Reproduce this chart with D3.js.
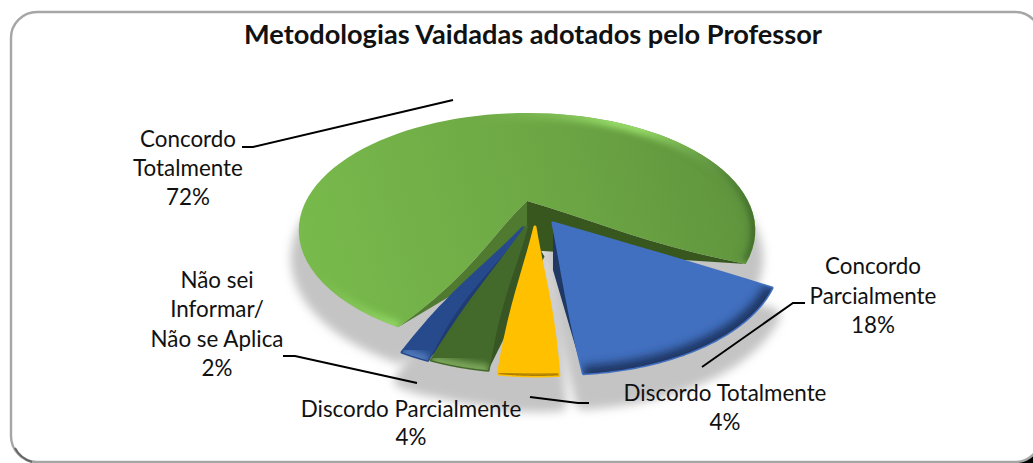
<!DOCTYPE html>
<html lang="pt">
<head>
<meta charset="UTF-8">
<title>Metodologias Vaidadas</title>
<script src="https://d3js.org/d3.v7.min.js"></script>
<style>
  html, body { margin: 0; padding: 0; background: #fff; overflow: hidden; }
  svg { display: block; }
  text { font-family: Lato, "Open Sans", sans-serif; fill: #111; }
  .title { font-size: 27.2px; font-weight: 700; }
  .label { font-size: 22.4px; }
</style>
</head>
<body>
<svg id="chart" width="1033" height="463"></svg>
<script>
const title = "Metodologias Vaidadas adotados pelo Professor";

// data, clockwise from the blue slice
const categories = [
  ["Concordo", "Parcialmente"],
  ["Discordo Totalmente"],
  ["Discordo Parcialmente"],
  ["Não sei", "Informar/", "Não se Aplica"],
  ["Concordo", "Totalmente"]
];
const values = [18, 4, 4, 2, 72];

// look of each slice
const colors = ["#4270c0", "#ffc000", "#43692b", "#264a8c", "#6ea845"];
const wallColors = ["#1f3864", "#c99700", "#375623", "#1f3c74", "#4f7a30"];
const rimColors = ["#1c3562", "#a87a00", "#7aa65a", "#4f78ba", "#8fd262"];
const explodeU = [0.112, 0.034, -0.002, -0.017, 0];
const explodeV = [0.19, 0.223, 0.22, 0.23, 0];
const radii = [0.94, 0.915, 0.9, 0.89, 1];
const wallHeights = [47, 0, 30, 24, 49];
const wallShift = [0, 0, 18, 10, 0];
// how far the cut edges curve, in degrees, at the start and end of each slice
const startBows = [0.5, 1, -1.5, -3, 3];
const endBows = [0.5, 1, 1, 2, 3];

// label placement
const labelX = [873, 725, 411, 217, 188];
const labelY = [274, 401, 417, 288, 147];
const labelStep = [29.5, 29, 28, 29.3, 29];
const leaders = [
  [[702, 367], [793, 303], [805, 303]],
  [[530, 397], [578, 403], [589, 403]],
  [[417, 383], [295, 356], [283, 356]],
  [[453, 100], [253, 147], [242, 147]]
];

const svg = d3.select("#chart");
const defs = svg.append("defs");

function blur(id, amount) {
  defs.append("filter").attr("id", id).attr("x", "-20%").attr("y", "-20%")
    .attr("width", "140%").attr("height", "140%")
    .append("feGaussianBlur").attr("stdDeviation", amount);
}
blur("soft", 5);
blur("edge", 3);
blur("edgeWide", 5);
blur("edgeThin", 1.2);

const greenFill = defs.append("linearGradient").attr("id", "greenFill")
  .attr("gradientUnits", "userSpaceOnUse")
  .attr("x1", 300).attr("y1", 300).attr("x2", 755).attr("y2", 170);
greenFill.append("stop").attr("offset", 0).attr("stop-color", "#79bb4c");
greenFill.append("stop").attr("offset", 0.6).attr("stop-color", "#6ca644");
greenFill.append("stop").attr("offset", 1).attr("stop-color", "#5f933d");

// light along the lower left of the green rim
const greenRim = defs.append("linearGradient").attr("id", "greenRim")
  .attr("gradientUnits", "userSpaceOnUse")
  .attr("x1", 400).attr("y1", 335).attr("x2", 330).attr("y2", 265);
greenRim.append("stop").attr("offset", 0).attr("stop-color", "#96da68");
greenRim.append("stop").attr("offset", 0.5).attr("stop-color", "#8fd262").attr("stop-opacity", 0.5);
greenRim.append("stop").attr("offset", 1).attr("stop-color", "#8fd262").attr("stop-opacity", 0);

// dark along its right side
const greenDark = defs.append("linearGradient").attr("id", "greenDark")
  .attr("gradientUnits", "userSpaceOnUse")
  .attr("x1", 640).attr("y1", 0).attr("x2", 755).attr("y2", 0);
greenDark.append("stop").attr("offset", 0).attr("stop-color", "#44702b").attr("stop-opacity", 0);
greenDark.append("stop").attr("offset", 1).attr("stop-color", "#44702b");

// panel border, runs off the right side of the picture
svg.append("path")
  .attr("d", "M1033,446 Q1030,457 1017,463 L1033,463 Z")
  .attr("fill", "#000");
svg.append("rect")
  .attr("x", 11).attr("y", 12).attr("width", 1030).attr("height", 450)
  .attr("rx", 26).attr("ry", 26)
  .attr("fill", "#fff").attr("stroke", "#a6a6a6").attr("stroke-width", 2.4);
svg.append("path")
  .attr("d", "M15,448 Q20,458 32,462")
  .attr("fill", "none").attr("stroke", "#666").attr("stroke-width", 2);

svg.append("text").attr("class", "title")
  .attr("x", 533).attr("y", 44).attr("text-anchor", "middle")
  .text(title);

// perspective view of the pie's disc, origin at the green slice's tip
const cx = 527, cy = 201, R = 221, S = 110, k = 0.25;
function project(u, v) {
  const d = 1 - k * v;
  return [cx + R * u / d, cy + S * v / d];
}
// the view also squeezes the slices turned towards the camera
const toRad = Math.PI / 180;
function view(a) {
  const t = a - Math.PI / 2;
  return t + 9 * toRad * Math.sin(t + 106.5 * toRad);
}

const slices = d3.pie().sort(null)
  .startAngle(113.1 * toRad)
  .endAngle(473.1 * toRad)(values);

function sideEdge(i, theta, bend) {
  return d3.range(0, 1.001, 0.1).map(t => {
    const a = theta + bend * toRad * Math.sin(Math.PI * t);
    return project(explodeU[i] + radii[i] * t * Math.cos(a),
                   explodeV[i] + radii[i] * t * Math.sin(a));
  });
}
function rimArc(i, t0, t1) {
  return d3.range(0, 1.0001, 1 / 80).map(f => {
    const a = t0 + (t1 - t0) * f;
    return project(explodeU[i] + radii[i] * Math.cos(a),
                   explodeV[i] + radii[i] * Math.sin(a));
  });
}
const line = d3.line();

const parts = slices.map((s, i) => {
  const t0 = view(s.startAngle), t1 = view(s.endAngle);
  const a = sideEdge(i, t0, -startBows[i]), b = sideEdge(i, t1, endBows[i]);
  const rim = rimArc(i, t0, t1);
  const top = a.concat(rim, b.slice().reverse());
  const tip = a[0];
  const under = [tip[0] + wallShift[i], tip[1] + wallHeights[i]];
  return {
    i, top, rim, tip,
    wallStart: a.concat([under]),
    wallEnd: b.concat([under])
  };
});

// cast shadow under the pie
svg.append("g").attr("filter", "url(#soft)")
  .selectAll("path").data(parts).join("path")
  .attr("d", d => line(d.top) + "Z")
  .attr("transform", "translate(0,28)")
  .attr("fill", "#c4c4c4")
  .attr("stroke", "#c4c4c4")
  .attr("stroke-width", 16)
  .attr("stroke-linejoin", "round");

// drawing order, back to front
const order = [4, 3, 2, 1, 0];
const groups = svg.selectAll("g.slice").data(order.map(i => parts[i])).join("g")
  .attr("class", "slice");

// green has both cut faces showing, the right one in deep shade
groups.filter(d => d.i === 4).each(function(d) {
  const g = d3.select(this);
  g.append("path").attr("d", line(d.wallEnd) + "Z").attr("fill", "#38571f");
  g.append("path").attr("d", line(d.wallStart) + "Z").attr("fill", wallColors[4]);
});
// the others show only their left or right cut face
groups.filter(d => d.i !== 4 && wallHeights[d.i] > 0).each(function(d) {
  const wall = d.i === 0 ? d.wallEnd : d.wallStart;
  d3.select(this).append("path").attr("d", line(wall) + "Z").attr("fill", wallColors[d.i]);
});

groups.append("clipPath").attr("id", d => "clip" + d.i)
  .append("path").attr("d", d => line(d.top) + "Z");

groups.append("path")
  .attr("d", d => line(d.top) + "Z")
  .attr("fill", d => d.i === 4 ? "url(#greenFill)" : colors[d.i])
  .attr("stroke", d => d.i === 4 ? "none" : colors[d.i])
  .attr("stroke-width", 3)
  .attr("stroke-linejoin", "round");

// bevel along the outer edge, kept inside the slice
const bevelBlur = ["url(#edgeWide)", "url(#edgeThin)", "url(#edge)", "url(#edge)", "url(#edge)"];
const bevelWidth = [16, 5, 12, 12, 12];
const bevel = groups.append("g").attr("clip-path", d => "url(#clip" + d.i + ")");
bevel.append("path")
  .attr("d", d => line(d.rim))
  .attr("fill", "none")
  .attr("stroke", d => d.i === 4 ? "url(#greenRim)" : rimColors[d.i])
  .attr("stroke-width", d => bevelWidth[d.i])
  .attr("filter", d => bevelBlur[d.i]);
bevel.filter(d => d.i === 4).append("path")
  .attr("d", d => line(d.rim))
  .attr("fill", "none")
  .attr("stroke", "url(#greenDark)")
  .attr("stroke-width", 16)
  .attr("filter", "url(#edge)");

// leader lines
svg.append("g").selectAll("path").data(leaders).join("path")
  .attr("d", d => line(d))
  .attr("fill", "none").attr("stroke", "#000").attr("stroke-width", 2);

// labels
const labels = svg.append("g").selectAll("text").data(categories).join("text")
  .attr("class", "label")
  .attr("text-anchor", "middle")
  .attr("y", (d, i) => labelY[i]);
labels.selectAll("tspan")
  .data((d, i) => d.concat(values[i] + "%").map((t, j) => ({ t, j, i })))
  .join("tspan")
  .attr("x", d => labelX[d.i])
  .attr("y", d => labelY[d.i] + d.j * labelStep[d.i])
  .text(d => d.t);
</script>
</body>
</html>
